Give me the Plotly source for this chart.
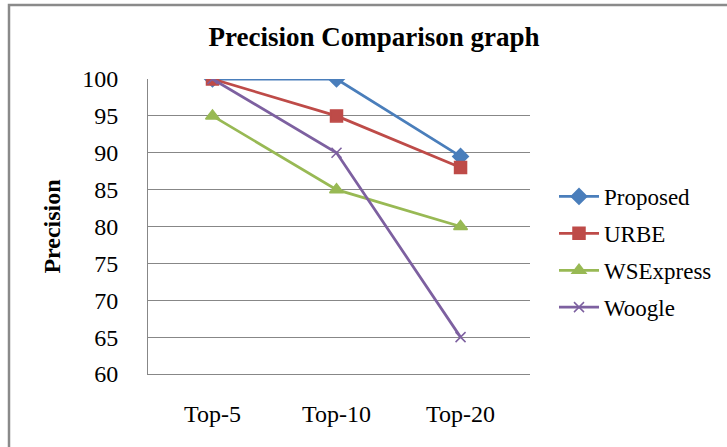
import plotly.graph_objects as go

categories = ["Top-5", "Top-10", "Top-20"]
proposed = [100, 100, 89.5]
urbe = [100, 95, 88]
wsexpress = [95, 85, 80]
woogle = [100, 90, 65]
y_ticks = [60, 65, 70, 75, 80, 85, 90, 95, 100]

W, H = 727, 447
L, R, T, B = 148, 197, 79, 73
pw, ph = W - L - R, H - T - B

series = [
    ("Proposed", proposed, "#4A7EBB", "diamond", 12),
    ("URBE", urbe, "#BE4B48", "square", 12),
    ("WSExpress", wsexpress, "#98B954", "triangle-up", 12),
    ("Woogle", woogle, "#7D60A0", "x-thin", 10),
]

fig = go.Figure()
for name, vals, col, sym, sz in series:
    fig.add_trace(go.Scatter(
        x=categories, y=vals, name=name, legendgroup=name, mode="lines+markers",
        line=dict(color=col, width=2.75),
        marker=dict(symbol=sym, size=sz, color=col, line=dict(color=col, width=1.5)),
    ))

font_family = "Liberation Serif, Times New Roman, serif"

fig.update_layout(
    width=W, height=H,
    margin=dict(l=L, r=R, t=T, b=B, autoexpand=False),
    paper_bgcolor="white", plot_bgcolor="white",
    font=dict(family=font_family, size=22, color="black"),
    title=dict(text="<b>Precision Comparison graph</b>", x=374 / W, xanchor="center",
               y=1 - 37 / H, yanchor="middle", font=dict(size=27, family=font_family)),
    showlegend=True,
    legend=dict(x=(554 - L) / pw, xanchor="left", y=(H - B - 252) / ph, yanchor="middle",
                font=dict(size=23, family=font_family), tracegroupgap=4,
                itemwidth=40, bgcolor="rgba(0,0,0,0)"),
    xaxis=dict(
        type="category", showgrid=False, showline=True, linecolor="#878787", linewidth=1,
        ticks="", ticklabelstandoff=18, tickfont=dict(size=24, family=font_family),
        range=[-0.52, 2.56], zeroline=False,
    ),
    yaxis=dict(
        range=[60, 100], tickvals=y_ticks, showgrid=True, gridcolor="#878787", gridwidth=1,
        showline=True, linecolor="#878787", linewidth=1, ticks="", ticklabelstandoff=24,
        tickfont=dict(size=24, family=font_family), zeroline=False,
        title=dict(text="<b>Precision</b>", font=dict(size=24, family=font_family), standoff=14),
    ),
)

# outer chart border (cropped on right/bottom)
fig.add_shape(type="rect", xref="paper", yref="paper",
              x0=(9 - L) / pw, x1=(W + 10 - L) / pw,
              y0=(H - B - (H + 10)) / ph, y1=(H - B - 5) / ph,
              line=dict(color="#8A8A8A", width=2.5), fillcolor="rgba(0,0,0,0)", layer="below")

fig.write_html("out.html", config={"displayModeBar": False},
               post_script="document.body.style.margin='0';")
